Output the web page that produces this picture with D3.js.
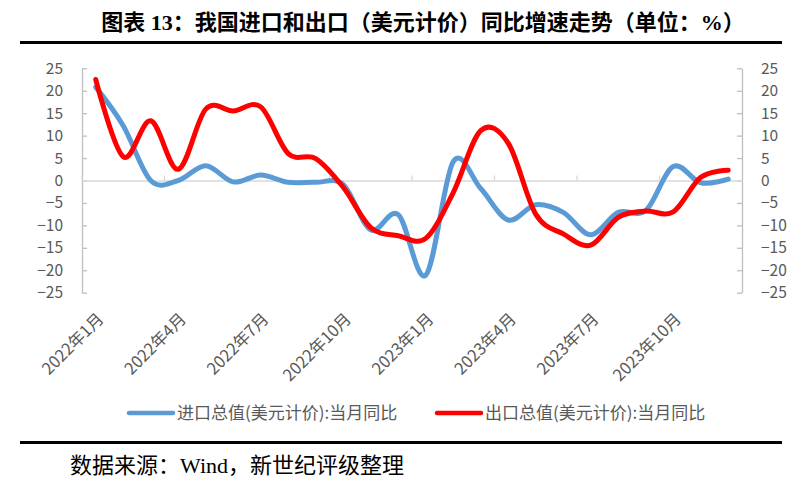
<!DOCTYPE html>
<html>
<head>
<meta charset="utf-8">
<script src="https://cdn.jsdelivr.net/npm/d3@7"></script>
<style>
  body { margin: 0; background: #fff; }
  svg { display: block; }
</style>
</head>
<body>
<div id="chart"></div>
<script>
// data
const months = ["2022年1月","2022年2月","2022年3月","2022年4月","2022年5月","2022年6月",
  "2022年7月","2022年8月","2022年9月","2022年10月","2022年11月","2022年12月",
  "2023年1月","2023年2月","2023年3月","2023年4月","2023年5月","2023年6月",
  "2023年7月","2023年8月","2023年9月","2023年10月","2023年11月","2023年12月"]
const imports = [20.8, 12.2, 0.0, 0.0, 3.3, -0.3, 1.2, -0.4, -0.4, -0.9, -11.0, -7.6,
  -21.1, 4.2, -1.8, -8.8, -5.4, -7.1, -12.1, -7.1, -6.7, 3.1, -0.5, 0.3]
const exports = [22.5, 5.3, 13.3, 2.5, 15.9, 15.5, 16.4, 6.0, 4.9, -1.5, -10.5, -12.3,
  -12.9, -2.7, 11.1, 8.3, -7.5, -11.9, -14.4, -8.2, -6.8, -7.0, 0.7, 2.3]
const yTicks = [-25, -20, -15, -10, -5, 0, 5, 10, 15, 20, 25]
const seriesNames = ["进口总值(美元计价):当月同比", "出口总值(美元计价):当月同比"]

const W = 808, H = 488
const svg = d3.select("#chart").append("svg").attr("width", W).attr("height", H)

const labelFont = "'Noto Sans CJK SC', 'Noto Sans', sans-serif"
const serifFont = "'Liberation Serif', 'Noto Sans CJK SC', serif"
const grey = "#595959"
const axisGrey = "#bfbfbf"

// title + rules
svg.append("text").attr("x", 423).attr("y", 30)
  .attr("text-anchor", "middle")
  .attr("font-family", serifFont).attr("font-weight", "bold").attr("font-size", 22)
  .text("图表 13：我国进口和出口（美元计价）同比增速走势（单位：%）")
svg.append("rect").attr("x", 20).attr("y", 41).attr("width", 762).attr("height", 3).attr("fill", "#000")
svg.append("rect").attr("x", 20).attr("y", 441).attr("width", 762).attr("height", 3).attr("fill", "#000")
svg.append("text").attr("x", 70).attr("y", 473)
  .attr("font-family", serifFont).attr("font-size", 22)
  .text("数据来源：Wind，新世纪评级整理")

// scales
const x = d3.scaleBand().domain(months).range([82, 742])
const cx = d => x(d) + x.bandwidth() / 2
const y = d3.scaleLinear().domain([-25, 25]).range([292.7, 68.3])

// y axes on both sides, ticks pointing inwards
const left = svg.append("g").attr("transform", "translate(82,0)")
  .call(d3.axisLeft(y).tickValues(yTicks).tickSizeInner(-5).tickSizeOuter(0).tickPadding(19))
const right = svg.append("g").attr("transform", "translate(742,0)")
  .call(d3.axisRight(y).tickValues(yTicks).tickSizeInner(-5).tickSizeOuter(0).tickPadding(19))
for (const g of [left, right]) {
  g.select(".domain").attr("stroke", axisGrey).attr("stroke-width", 1.3)
  g.selectAll(".tick line").attr("stroke", axisGrey).attr("stroke-width", 1.3)
  g.selectAll(".tick text").attr("fill", grey).attr("font-family", labelFont).attr("font-size", 15.5)
}

// zero line with category ticks
const tickMonths = months.filter((d, i) => i % 3 === 0)
const zero = svg.append("g").attr("transform", `translate(0,${y(0)})`)
  .call(d3.axisTop(x).tickValues(tickMonths).tickSizeInner(5).tickSizeOuter(0).tickFormat(""))
zero.selectAll(".tick").attr("transform", d => `translate(${x(d)},0)`)
zero.select(".domain").attr("stroke", "#d9d9d9").attr("stroke-width", 1.3)
zero.selectAll(".tick line").attr("stroke", "#d9d9d9").attr("stroke-width", 1.3)

// rotated month labels at the bottom
svg.append("g").selectAll("text").data(tickMonths).join("text")
  .attr("transform", d => `translate(${cx(d) + 9},320) rotate(-45)`)
  .attr("text-anchor", "end")
  .attr("fill", grey).attr("font-family", labelFont).attr("font-size", 16.5)
  .text(d => d)

// lines
const line = d3.line().x((d, i) => cx(months[i])).y(d => y(d)).curve(d3.curveCardinal.tension(0))
const colors = ["#5b9bd5", "#ff0000"]
;[imports, exports].forEach((s, k) => {
  svg.append("path").datum(s).attr("d", line)
    .attr("fill", "none").attr("stroke", colors[k]).attr("stroke-width", 5)
    .attr("stroke-linejoin", "round").attr("stroke-linecap", "round")
})

// legend
const legX = [129, 437]
seriesNames.forEach((name, k) => {
  const g = svg.append("g").attr("transform", `translate(${legX[k]},413)`)
  g.append("line").attr("x1", 0).attr("x2", 44).attr("y1", 0).attr("y2", 0)
    .attr("stroke", colors[k]).attr("stroke-width", 4.5).attr("stroke-linecap", "round")
  g.append("text").attr("x", 48).attr("y", 6)
    .attr("fill", grey).attr("font-family", labelFont).attr("font-size", 17)
    .text(name)
})
</script>
</body>
</html>
